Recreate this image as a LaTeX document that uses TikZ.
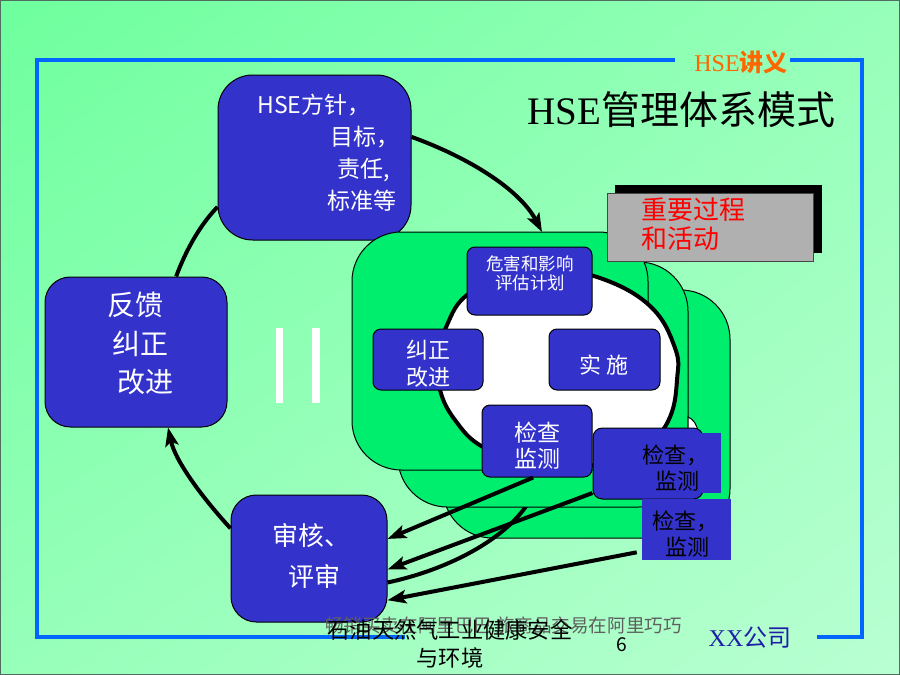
\documentclass[tikz,border=0pt]{standalone}
\usepackage{fontspec}
\setmainfont{Liberation Serif}
\newfontfamily\cjk{Noto Sans CJK SC}
\usetikzlibrary{arrows.meta,shadings}
\newlength\pxu
\setlength\pxu{0.75pt}
\newcommand\setfs[2]{\fontsize{#1}{#2}\selectfont}
\definecolor{bgUL}{RGB}{110,255,158}
\definecolor{bgUR}{RGB}{150,255,185}
\definecolor{bgLL}{RGB}{150,255,185}
\definecolor{bgLR}{RGB}{185,255,210}
\definecolor{borderc}{RGB}{80,110,95}
\definecolor{frameblue}{RGB}{0,102,255}
\definecolor{boxblue}{RGB}{51,51,204}
\definecolor{stackgreen}{RGB}{0,238,110}
\definecolor{hseorange}{RGB}{255,102,0}
\definecolor{graybox}{RGB}{176,176,176}
\definecolor{grayline}{RGB}{70,70,70}
\definecolor{xxblue}{RGB}{30,30,170}
\definecolor{wmgray}{RGB}{95,95,95}
\begin{document}
\begin{tikzpicture}[x=0.75pt,y=-0.75pt,
  bluebox/.style={draw=black, line width=0.75pt, fill=boxblue, inner sep=0pt},
  stackshape/.style={draw=black, line width=0.75pt, fill=stackgreen, inner sep=0pt, rounded corners=37pt},
  txt/.style={inner sep=0pt, font=\cjk},
  wtxt/.style={txt, text=white},
  arrowline/.style={line width=3pt, -{Stealth[length=14pt,width=10pt,inset=3pt]}},
  arcline/.style={line width=3pt},
  framel/.style={draw=frameblue, line width=3pt},
]
\useasboundingbox (0,0) rectangle (900,675);
\shade[upper left=bgUL, upper right=bgUR, lower left=bgLL, lower right=bgLR] (0,0) rectangle (900,675);
\draw[borderc, line width=1.5pt] (0,0) rectangle (900,675);

% frame
\draw[framel] (675,60) -- (37,60) -- (37,637) -- (405,637);
\draw[framel] (790,60) -- (862,60) -- (862,637) -- (817,637);

% titles
\node[inner sep=0pt, text=hseorange, font={\setfs{18pt}{20pt}}] (lecture) at (741,62) {HSE{\cjk\bfseries 讲义}};
\node[inner sep=0pt, font={\setfs{29.25pt}{32pt}}] (title) at (681.5,110) {HSE{\cjk 管理体系模式}};

% outer boxes
\node[bluebox, rounded corners=26pt, minimum width=193\pxu, minimum height=165\pxu] (hse) at (314.5,157.5) {};
\node[wtxt, anchor=west, align=left, font={\cjk\setfs{17.25pt}{24pt}}] (hsetext) at (257,152.5) {HSE方针，\\\hspace*{73\pxu}目标，\\\hspace*{80\pxu}责任,\\\hspace*{70\pxu}标准等};

\node[bluebox, rounded corners=19pt, minimum width=182\pxu, minimum height=150\pxu] (fk) at (136,352) {};
\node[wtxt, anchor=west, align=left, font={\cjk\setfs{21pt}{28.9pt}}] (fktext) at (107,343.5) {反馈\\\hspace*{5\pxu}纠正\\\hspace*{10\pxu}改进};

\node[bluebox, rounded corners=19pt, minimum width=156\pxu, minimum height=127\pxu] (sh) at (309,558.5) {};
\node[wtxt, anchor=west, align=left, font={\cjk\setfs{19.5pt}{30.75pt}}] (shtext) at (272,556.5) {审核、\\\hspace*{16\pxu}评审};

% equals bars
\fill[white] (276,328) rectangle (283,403);
\fill[white] (312,328) rectangle (320,403);

% stacked green shapes
\node[stackshape, minimum width=287\pxu, minimum height=248\pxu] (gc) at (586.5,414) {};
\coordinate (gbot) at (530,500);
\draw[arcline] (gbot) .. controls (510,535) and (455,568) .. (sh.-17);
\node[stackshape, minimum width=290\pxu, minimum height=245\pxu] (gb) at (543,384.5) {};
\node[stackshape, minimum width=296\pxu, minimum height=238\pxu] (ga) at (500,351) {};

% white ring
\draw[line width=3pt, fill=white] plot[smooth cycle, tension=0.7] coordinates {(556,273) (600,278) (650,306) (675,348) (677,380) (670,417) (650,443) (620,458) (585,466) (530,462) (483,447) (455,420) (440,390) (438,360) (447,325) (467,295) (505,279)};

% inner boxes
\node[bluebox, rounded corners=6pt, minimum width=125\pxu, minimum height=68\pxu] (hazard) at (529.5,281) {};
\node[wtxt, align=center, font={\cjk\setfs{13.1pt}{14.6pt}}] (hazardtext) at (530,273.5) {危害和影响\\评估计划};
\node[bluebox, rounded corners=6pt, minimum width=110\pxu, minimum height=61\pxu] (corr) at (428,359.5) {};
\node[wtxt, align=center, font={\cjk\setfs{16.5pt}{20.25pt}}] (corrtext) at (428.5,363.5) {纠正\\改进};
\node[bluebox, rounded corners=6pt, minimum width=111\pxu, minimum height=61\pxu] (impl) at (604.5,359.5) {};
\node[wtxt, font={\cjk\setfs{16.5pt}{20pt}}] (impltext) at (604,365) {实 施};
\node[bluebox, rounded corners=6pt, minimum width=110\pxu, minimum height=72\pxu] (ck) at (537,441) {};
\node[wtxt, align=center, font={\cjk\setfs{17.25pt}{19.5pt}}] (cktext) at (537,446) {检查\\监测};

% small white patch
\filldraw[fill=white, draw=black, line width=0.75pt] (688,417) .. controls (693,419) and (697,424) .. (698,432) -- (688,432) -- cycle;

% outer check boxes
\node[bluebox, rounded corners=7pt, minimum width=110\pxu, minimum height=71\pxu] (ckr) at (648,463.5) {};
\node[fill=boxblue, inner sep=0pt, minimum width=85\pxu, minimum height=60\pxu] (ck1) at (678.5,463) {};
\node[txt, anchor=west, align=left, font={\cjk\setfs{16.5pt}{19.9pt}}] (ck1text) at (642,468) {检查，\\\hspace*{13\pxu}监测};
\node[fill=boxblue, inner sep=0pt, minimum width=89\pxu, minimum height=61\pxu] (ck2) at (686.5,529.5) {};
\node[txt, anchor=west, align=left, font={\cjk\setfs{16.5pt}{19.9pt}}] (ck2text) at (652,534) {检查，\\\hspace*{13\pxu}监测};

% gray label
\node[fill=black, inner sep=0pt, minimum width=207\pxu, minimum height=68\pxu] (gshadow) at (718.5,219) {};
\node[draw=grayline, fill=graybox, line width=0.75pt, inner sep=0pt, minimum width=206\pxu, minimum height=68\pxu] (gbox) at (710,227) {};
\node[txt, text=red, anchor=west, align=left, font={\cjk\setfs{19.5pt}{21.4pt}}] (gtext) at (641,224) {重要过程\\和活动};

% cycle arcs and arrows
\coordinate (atop) at (542,232);
\draw[arrowline] (hse.12) .. controls (470,158) and (520,190) .. (atop);
\draw[arcline] (hse.207) .. controls (200,225) and (186,250) .. (fk.62);
\draw[arrowline] (sh.159) .. controls (200,495) and (175,460) .. (fk.293);
\draw[arrowline] (ck.-96) -- (sh.14);
\draw[arrowline] (ckr.208) -- (sh.-8);
\draw[arrowline] ([xshift=-5\pxu]ck2.207) -- (sh.-28);

% footer
\node[txt, text=wmgray, font={\cjk\setfs{13.9pt}{16pt}}] (wm) at (503.5,625) {畅销买卖在阿里巴巴 旅商品交易在阿里巧巧};
\node[txt, align=center, font={\cjk\setfs{16.7pt}{21pt}}] (footer) at (450,644) {石油天然气工业健康安全\\与环境};
\node[txt, font={\cjk\setfs{14.4pt}{16pt}}] (pnum) at (622,645) {6};
\node[inner sep=0pt, text=xxblue, font={\setfs{18pt}{20pt}}] (company) at (750,638) {XX{\cjk 公司}};
\end{tikzpicture}
\end{document}
